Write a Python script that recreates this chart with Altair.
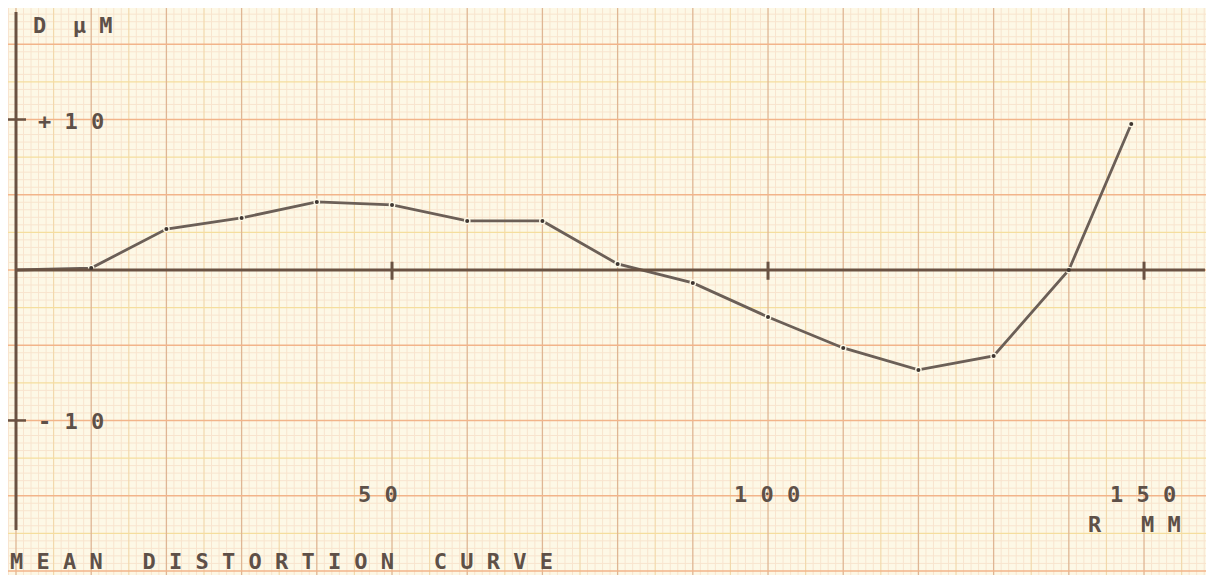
import altair as alt
import pandas as pd

# ---- chart values ----
r_mm = [0, 10, 20, 30, 40, 50, 60, 70, 80, 90, 100, 110, 120, 130, 140, 148.3]
d_um = [0, 0.13, 2.72, 3.46, 4.52, 4.32, 3.26, 3.26, 0.4, -0.86, -3.12, -5.18, -6.64, -5.71, 0, 9.7]
x_ticks = [50, 100, 150]
x_tick_labels = ["5 0", "1 0 0", "1 5 0"]
y_ticks = [10, -10]
y_tick_labels = ["+ 1 0", "- 1 0"]
title_text = "M E A N   D I S T O R T I O N   C U R V E"
y_unit = "D  µ M"
x_unit = "R   M M"

NB = "\u00a0"


def spaced(s):
    return s.replace(" ", NB)


INK = "#5e5048"
PAPER = "#fdf8e6"
FONT = "DejaVu Sans Mono"

xs = alt.Scale(domain=[-1.064, 158.24], nice=False, zero=False, padding=0)
ys = alt.Scale(domain=[-20.27, 17.41], nice=False, zero=False, padding=0)

curve = pd.DataFrame({"r": r_mm, "d": d_um})
inner = curve.iloc[1:]
xt = pd.DataFrame({"x": x_ticks, "label": [spaced(s) for s in x_tick_labels]})
yt = pd.DataFrame({"y": y_ticks, "label": [spaced(s) for s in y_tick_labels]})


def vgrid(flt, color, w):
    return (
        alt.Chart(alt.sequence(start=-1, stop=159, step=1, as_="v"))
        .transform_filter(flt)
        .mark_rule(color=color, strokeWidth=w)
        .encode(x=alt.X("v:Q", scale=xs, axis=None))
    )


def hgrid(flt, color, w):
    return (
        alt.Chart(alt.sequence(start=-40, stop=35, step=1, as_="k"))
        .transform_calculate(y="datum.k * 0.5")
        .transform_filter(flt)
        .mark_rule(color=color, strokeWidth=w)
        .encode(y=alt.Y("y:Q", scale=ys, axis=None))
    )


grid = [
    vgrid("datum.v % 5 != 0", "#f8e4ce", 1),
    hgrid("datum.k % 5 != 0", "#f8e4ce", 1),
    vgrid("datum.v % 5 == 0 && datum.v % 10 != 0", "#f2d9ac", 1.2),
    hgrid("datum.k % 5 == 0 && datum.k % 10 != 0", "#f5de9e", 1.2),
    vgrid("datum.v % 10 == 0", "#dfb694", 1.3),
    hgrid("datum.k % 10 == 0", "#f2b48a", 1.4),
]

line = alt.Chart(curve).mark_line(color="#6b5f57", strokeWidth=2.8).encode(
    x=alt.X("r:Q", scale=xs, axis=None), y=alt.Y("d:Q", scale=ys, axis=None)
)
halo = alt.Chart(inner).mark_circle(color=PAPER, size=45, opacity=1).encode(
    x=alt.X("r:Q", scale=xs), y=alt.Y("d:Q", scale=ys)
)
dots = alt.Chart(inner).mark_circle(color="#3e3530", size=16, opacity=1).encode(
    x=alt.X("r:Q", scale=xs), y=alt.Y("d:Q", scale=ys)
)

base = alt.Chart(pd.DataFrame({"a": [0]}))
axis_col = "#6a5242"
haxis = base.mark_rule(color=axis_col, strokeWidth=3).encode(
    x=alt.datum(0, scale=xs), x2=alt.datum(158.1), y=alt.datum(0, scale=ys)
)
vaxis = base.mark_rule(color=axis_col, strokeWidth=3).encode(
    x=alt.datum(0, scale=xs), y=alt.datum(17.14, scale=ys), y2=alt.datum(-17.28)
)
xtick_marks = alt.Chart(xt).mark_rule(color=axis_col, strokeWidth=3).encode(
    x=alt.X("x:Q", scale=xs), y=alt.datum(0.55, scale=ys), y2=alt.datum(-0.65)
)
ytick_marks = alt.Chart(yt).mark_rule(color=axis_col, strokeWidth=2.5).encode(
    y=alt.Y("y:Q", scale=ys), x=alt.datum(-1.33, scale=xs), x2=alt.datum(1.33)
)

tstyle = dict(font=FONT, fontSize=22, fontWeight="bold", color=INK,
              baseline="alphabetic", align="left")
xlab = alt.Chart(xt).mark_text(dx=-34, **tstyle).encode(
    x=alt.X("x:Q", scale=xs), y=alt.value(494), text="label:N"
)
ylab = alt.Chart(yt).mark_text(dy=9, **tstyle).encode(
    y=alt.Y("y:Q", scale=ys), x=alt.value(30), text="label:N"
)
yunit = base.mark_text(**tstyle).encode(x=alt.value(25), y=alt.value(25), text=alt.value(spaced(y_unit)))
xunit = base.mark_text(**tstyle).encode(x=alt.value(1080), y=alt.value(524), text=alt.value(spaced(x_unit)))
title = base.mark_text(**tstyle).encode(x=alt.value(2), y=alt.value(561), text=alt.value(spaced(title_text)))

chart = (
    alt.layer(*grid, line, halo, haxis, vaxis, xtick_marks, ytick_marks, dots,
              xlab, ylab, yunit, xunit, title)
    .properties(width=1198, height=567, background=PAPER, padding=0, autosize="none")
    .configure_view(stroke=None)
)

chart.save("out.html", embed_options={"renderer": "svg", "actions": False})
